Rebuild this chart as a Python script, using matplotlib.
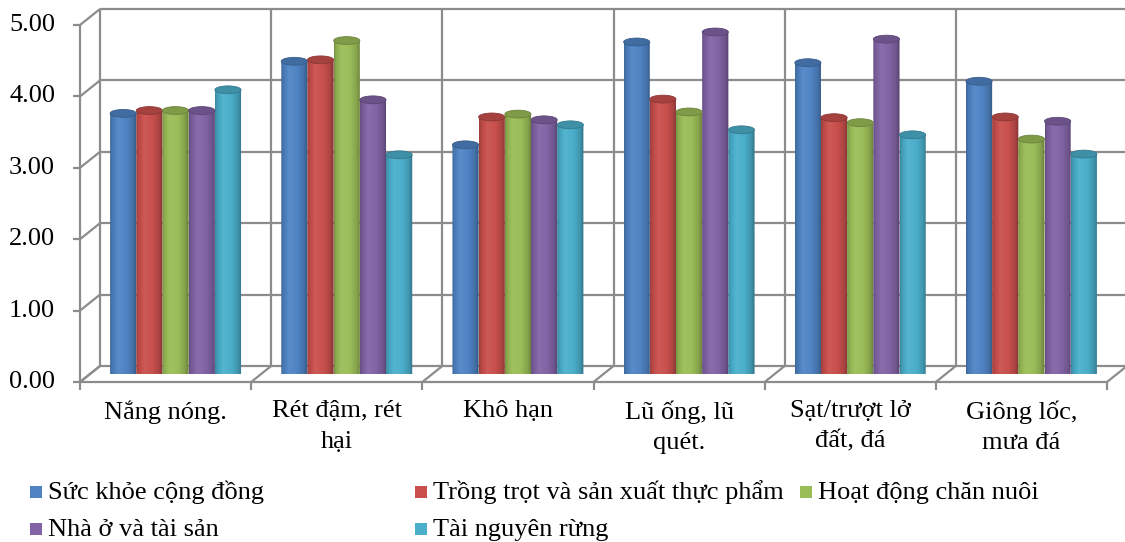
import numpy as np
import matplotlib
matplotlib.use("Agg")
import matplotlib.pyplot as plt
from matplotlib.transforms import ScaledTranslation
from matplotlib.patches import Ellipse, PathPatch, Rectangle
from matplotlib.path import Path
from matplotlib.colors import to_rgb

# ---- data -------------------------------------------------------------
categories = ["Nắng nóng.", "Rét đậm, rét\nhại", "Khô hạn", "Lũ ống, lũ\nquét.",
              "Sạt/trượt lở\nđất, đá", "Giông lốc,\nmưa đá"]
series_names = ["Sức khỏe cộng đồng", "Trồng trọt và sản xuất thực phẩm",
                "Hoạt động chăn nuôi", "Nhà ở và tài sản", "Tài nguyên rừng"]
suc_khoe = [3.65, 4.38, 3.21, 4.65, 4.36, 4.10]
trong_trot = [3.69, 4.40, 3.60, 3.85, 3.59, 3.60]
chan_nuoi = [3.69, 4.67, 3.64, 3.67, 3.52, 3.29]
nha_o = [3.69, 3.84, 3.56, 4.79, 4.69, 3.54]
rung = [3.98, 3.07, 3.49, 3.42, 3.35, 3.08]
series_values = [suc_khoe, trong_trot, chan_nuoi, nha_o, rung]
y_ticks = [0, 1, 2, 3, 4, 5]
y_tick_labels = ["0.00", "1.00", "2.00", "3.00", "4.00", "5.00"]

colors = ["#4f84c4", "#c9504d", "#9bbd58", "#8264a6", "#4bafcb"]

# ---- figure / layout --------------------------------------------------
W, H, DPI = 1125, 542, 100
fig = plt.figure(figsize=(W / DPI, H / DPI), dpi=DPI)
plt.rcParams["font.family"] = ["Liberation Serif", "DejaVu Serif"]
FS = 19

def fx(px):
    return px / W

def fy(py):
    return 1 - py / H

# middle depth plane of the 3-D box
x_left, x_right = 90, 1117
y_zero, y_top = 374, 17
ax = fig.add_axes([fx(x_left), fy(y_zero), fx(x_right - x_left), fy(y_top) - fy(y_zero)])
ax.set_xlim(0, len(categories))
ax.set_ylim(0, 5)
ax.set_axis_off()
ax.set_autoscale_on(False)

depth_dx, depth_dy = 10, 8  # half depth, pixels
front = ax.transData + ScaledTranslation(-depth_dx / DPI, -depth_dy / DPI, fig.dpi_scale_trans)
back = ax.transData + ScaledTranslation(depth_dx / DPI, depth_dy / DPI, fig.dpi_scale_trans)

grid_kw = dict(color="#8c8c8c", lw=1.6, solid_capstyle="butt", clip_on=False, zorder=1)
n_cat = len(categories)

# back wall
for v in y_ticks[1:]:
    ax.plot([0, n_cat], [v, v], transform=back, **grid_kw)
for i in range(n_cat + 1):
    ax.plot([i, i], [0, 5], transform=back, **grid_kw)
# floor
ax.plot([0, n_cat], [0, 0], transform=back, **grid_kw)
ax.plot([0, n_cat], [0, 0], transform=front, **grid_kw)
for i in range(n_cat + 1):
    p0 = front.transform((i, 0))
    p1 = back.transform((i, 0))
    ax.plot([p0[0], p1[0]], [p0[1], p1[1]], transform=None, **grid_kw)
# side wall depth lines and front value axis
for v in y_ticks:
    p0 = front.transform((0, v))
    p1 = back.transform((0, v))
    ax.plot([p0[0], p1[0]], [p0[1], p1[1]], transform=None, **grid_kw)
ax.plot([0, 0], [0, 5], transform=front, **grid_kw)

# tick marks and value labels
for v, lab in zip(y_ticks, y_tick_labels):
    p0 = front.transform((0, v))
    ax.plot([p0[0] - 7, p0[0]], [p0[1], p0[1]], transform=None, **grid_kw)
    ax.text(0, v, lab, transform=front + ScaledTranslation(-25 / DPI, 0, fig.dpi_scale_trans),
            ha="right", va="center", fontsize=FS, color="black")
for i in range(n_cat + 1):
    p0 = front.transform((i, 0))
    ax.plot([p0[0], p0[0]], [p0[1], p0[1] - 8], transform=None, **grid_kw)

# category labels
for i, c in enumerate(categories):
    ax.text(i + 0.5, 0, c, transform=front + ScaledTranslation(0, -18 / DPI, fig.dpi_scale_trans),
            ha="center", va="top", fontsize=FS, linespacing=1.5, color="black")

# ---- cylinders --------------------------------------------------------
bar_w = 0.153
ell_h = 0.11  # ellipse height in value units
n_ser = len(series_values)

def shade(rgb, f):
    rgb = np.asarray(rgb)
    if f >= 1:
        return rgb + (1 - rgb) * (f - 1)
    return rgb * f

tgrid = np.linspace(0, 1, 64)
prof_t = [0.0, 0.08, 0.3, 0.6, 0.85, 1.0]
prof_f = [0.78, 0.9, 1.06, 1.0, 0.86, 0.66]

for s, (vals, col) in enumerate(zip(series_values, colors)):
    base = np.array(to_rgb(col))
    fac = np.interp(tgrid, prof_t, prof_f)
    grad = np.array([shade(base, f) for f in fac])[None, :, :]
    grad = np.clip(grad, 0, 1)
    top_col = np.clip(shade(base, 0.82), 0, 1)
    for i, v in enumerate(vals):
        xc = i + 0.5 + (s - (n_ser - 1) / 2) * bar_w
        x0, x1 = xc - bar_w / 2, xc + bar_w / 2
        th = np.linspace(np.pi, 2 * np.pi, 40)
        ex = xc + bar_w / 2 * np.cos(th)
        ey = ell_h / 2 * np.sin(th)
        verts = [(x0, v)] + list(zip(ex, ey)) + [(x1, v), (x0, v)]
        codes = [Path.MOVETO] + [Path.LINETO] * (len(verts) - 2) + [Path.CLOSEPOLY]
        body = PathPatch(Path(verts, codes), facecolor="none", edgecolor="none", zorder=3)
        ax.add_patch(body)
        im = ax.imshow(grad, extent=(x0, x1, -ell_h, v), aspect="auto",
                       interpolation="bilinear", zorder=3)
        im.set_clip_path(body)
        ax.add_patch(Ellipse((xc, v), bar_w, ell_h, facecolor=top_col,
                             edgecolor=np.clip(shade(base, 0.7), 0, 1), lw=0.6, zorder=4))

# ---- legend (two rows, three columns) ---------------------------------
legend_pos = [(30, 499), (415, 499), (800, 499), (30, 536), (415, 536)]
for (px, base_y), name, col in zip(legend_pos, series_names, colors):
    fig.patches.append(Rectangle((fx(px), fy(base_y - 1)), fx(12), fy(0) - fy(12),
                                 transform=fig.transFigure, facecolor=col, edgecolor="none"))
    fig.text(fx(px + 18), fy(base_y), name, ha="left", va="baseline", fontsize=FS, color="black")

fig.savefig("out.png", dpi=DPI)
